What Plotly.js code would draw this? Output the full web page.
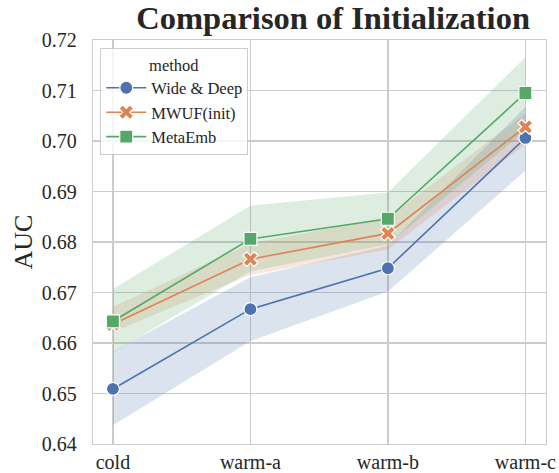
<!DOCTYPE html>
<html>
<head>
<meta charset="utf-8">
<script src="https://cdn.plot.ly/plotly-3.0.1.min.js"></script>
<style>html,body{margin:0;padding:0;background:#fff;}#chart{width:559px;height:473px;}</style>
</head>
<body>
<div id="chart"></div>
<script>
const categories = ["cold", "warm-a", "warm-b", "warm-c"];
const seriesNames = ["Wide & Deep", "MWUF(init)", "MetaEmb"];
const wideDeep = [0.6509, 0.6667, 0.6748, 0.7006];
const mwuf = [0.6637, 0.6766, 0.6817, 0.7028];
const metaEmb = [0.6643, 0.6806, 0.6846, 0.7095];
const wideDeepLower = [0.6437, 0.6604, 0.6702, 0.6941];
const wideDeepUpper = [0.6583, 0.6730, 0.6793, 0.7068];
const mwufLower = [0.6622, 0.6735, 0.6785, 0.6993];
const mwufUpper = [0.6672, 0.6797, 0.6848, 0.7055];
const metaEmbLower = [0.6581, 0.6742, 0.6795, 0.7020];
const metaEmbUpper = [0.6707, 0.6872, 0.6898, 0.7166];
const yTicks = [0.64, 0.65, 0.66, 0.67, 0.68, 0.69, 0.70, 0.71, 0.72];

const colors = ["#4c72b0", "#dd8452", "#55a868"];
const bandColors = ["rgba(76,114,176,0.2)", "rgba(221,132,82,0.2)", "rgba(85,168,104,0.2)"];
const symbols = ["circle", "x", "square"];
const means = [wideDeep, mwuf, metaEmb];
const lowers = [wideDeepLower, mwufLower, metaEmbLower];
const uppers = [wideDeepUpper, mwufUpper, metaEmbUpper];

const font = "Liberation Serif";
const traces = [];
for (let i = 0; i < 3; i++) {
  traces.push({
    x: categories.concat(categories.slice().reverse()),
    y: uppers[i].concat(lowers[i].slice().reverse()),
    type: "scatter", mode: "lines", fill: "toself",
    fillcolor: bandColors[i], line: {width: 0, color: "rgba(0,0,0,0)"},
    hoverinfo: "skip", showlegend: false
  });
}
for (let i = 0; i < 3; i++) {
  traces.push({
    x: categories, y: means[i], name: seriesNames[i],
    type: "scatter", mode: "lines+markers",
    line: {color: colors[i], width: 1.6},
    marker: {symbol: symbols[i], size: 13, color: colors[i], line: {color: "#ffffff", width: 1.2}}
  });
}

const layout = {
  width: 559, height: 473,
  margin: {l: 93, r: 13, t: 40, b: 29},
  paper_bgcolor: "#ffffff", plot_bgcolor: "#ffffff",
  font: {family: font, color: "#262626", size: 20},
  title: {text: "<b>Comparison of Initialization</b>", font: {family: font, size: 32.5, color: "#262626"},
          xref: "container", x: 0.596, xanchor: "center", yref: "container", y: 0.963, yanchor: "middle"},
  xaxis: {type: "category", range: [-0.145, 3.15], showgrid: true, gridcolor: "#cccccc", gridwidth: 1.2,
          showline: true, linecolor: "#cccccc", linewidth: 1.2, mirror: true, zeroline: false,
          tickfont: {family: font, size: 20, color: "#262626"}, ticks: "", ticklabelstandoff: 0},
  yaxis: {range: [0.64, 0.72], tickvals: yTicks, tickformat: ".2f", showgrid: true, gridcolor: "#cccccc", gridwidth: 1.2,
          showline: true, linecolor: "#cccccc", linewidth: 1.2, mirror: true, zeroline: false,
          tickfont: {family: font, size: 20, color: "#262626"}, ticks: "", ticklabelstandoff: 11,
          title: {text: "AUC", font: {family: font, size: 26, color: "#262626"}, standoff: 1}},
  legend: {x: 0.016, y: 0.98, xanchor: "left", yanchor: "top", bgcolor: "rgba(255,255,255,0.8)",
           bordercolor: "#cccccc", borderwidth: 1, font: {family: font, size: 16.5, color: "#262626"},
           title: {text: "method", side: "top center", font: {family: font, size: 16.5, color: "#262626"}},
           tracegroupgap: 0, itemwidth: 40},
  showlegend: true
};
Plotly.newPlot("chart", traces, layout, {displayModeBar: false, staticPlot: true});
</script>
</body>
</html>
